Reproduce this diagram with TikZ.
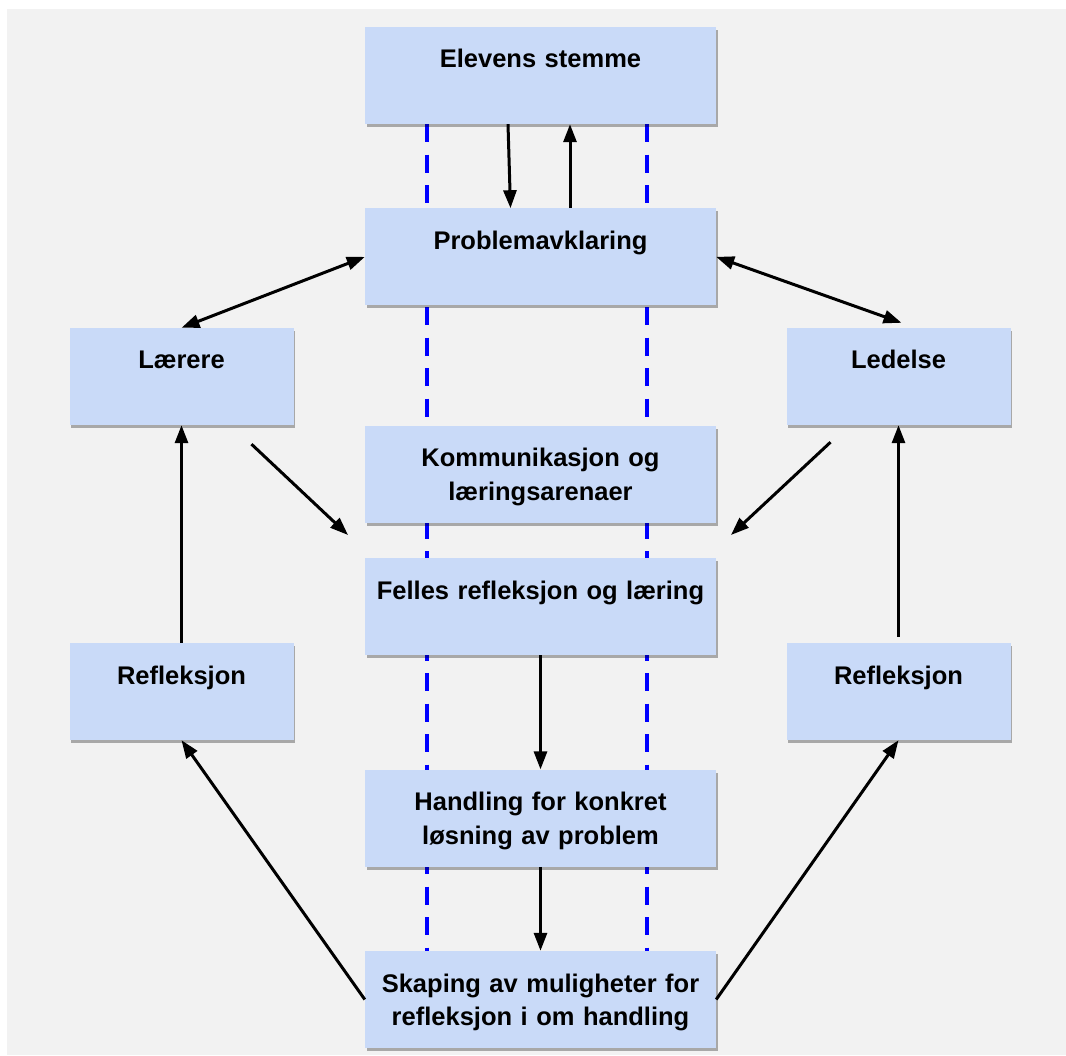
\documentclass[tikz,border=0pt]{standalone}
\usepackage{fontspec}
\setmainfont{Liberation Sans}
\usepackage{xcolor}
\definecolor{ioipage}{HTML}{F2F2F2}
\definecolor{ioibox}{HTML}{C9DAF8}
\definecolor{ioidash}{HTML}{0000FF}
\usepackage{tikz}
\usetikzlibrary{arrows.meta,positioning,shadows,backgrounds}

\begin{document}
\begin{tikzpicture}[x=1pt,y=-1pt,
  box/.style={fill=ioibox,inner sep=0pt,text width=#1,align=center,
    text height=41pt,text depth=56pt,
    font=\bfseries\fontsize{25.5}{33.5}\selectfont,
    drop shadow={shadow xshift=1.5pt,shadow yshift=-3pt,fill=black,opacity=0.3}},
  box/.default=351pt,
  guide/.style={draw=ioidash,line width=4pt,dash pattern=on 18pt off 12.5pt},
  arr/.style={-{Triangle[length=18pt,width=13pt]},line width=3pt},
  biarr/.style={{Triangle[length=18pt,width=13pt]}-{Triangle[length=18pt,width=13pt]},line width=3pt}]
\useasboundingbox (0,0) rectangle (1066,1056);

\node[box] (stemme) at (540.5,75.5) {Elevens stemme};
\node[box,below=84pt of stemme] (problem) {Problemavklaring};
\node[box,below=120pt of problem] (kommunikasjon) {Kommunikasjon og\\læringsarenaer};
\node[box,below=35pt of kommunikasjon] (felles) {Felles refleksjon og læring};
\node[box,below=114pt of felles] (handling) {Handling for konkret\\løsning av problem};
\node[box,below=84pt of handling] (skaping) {Skaping av muligheter for\\refleksjon i om handling};

\node[box=224pt] (laerere) at (181.5,376.5) {Lærere};
\node[box=224pt] (ledelse) at (898.5,376.5) {Ledelse};
\node[box=224pt] (reflv) at (181.5,691.5) {Refleksjon};
\node[box=224pt] (reflh) at (898.5,691.5) {Refleksjon};

\begin{scope}[on background layer]
\fill[white] (0,0) rectangle (1066,1056);
\fill[ioipage] (7,9) rectangle (1066,1055);
\draw[guide] ([xshift=-113.5pt]stemme.south) -- ([xshift=-113.5pt]skaping.north);
\draw[guide] ([xshift=106.5pt]stemme.south) -- ([xshift=106.5pt]skaping.north);
\end{scope}

\coordinate (mot felles v) at (348,535);
\coordinate (mot felles h) at (731,535);

\draw[arr] ([xshift=-32.5pt]stemme.south) -- ([xshift=-30pt]problem.north);
\draw[arr] ([xshift=29.5pt]problem.north) -- ([xshift=29.5pt]stemme.south);
\draw[biarr] (problem.west) -- (laerere.north);
\draw[biarr] (problem.east) -- ([xshift=3pt,yshift=5pt]ledelse.north);
\draw[arr] ([xshift=70pt,yshift=-19pt]laerere.south) -- (mot felles v);
\draw[arr] ([xshift=-68pt,yshift=-17pt]ledelse.south) -- (mot felles h);
\draw[arr] (felles.south) -- (handling.north);
\draw[arr] (handling.south) -- (skaping.north);
\draw[arr] (skaping.west) -- (reflv.south);
\draw[arr] (skaping.east) -- (reflh.south);
\draw[arr] (reflv.north) -- (laerere.south);
\draw[arr] ([yshift=6pt]reflh.north) -- (ledelse.south);
\end{tikzpicture}
\end{document}
